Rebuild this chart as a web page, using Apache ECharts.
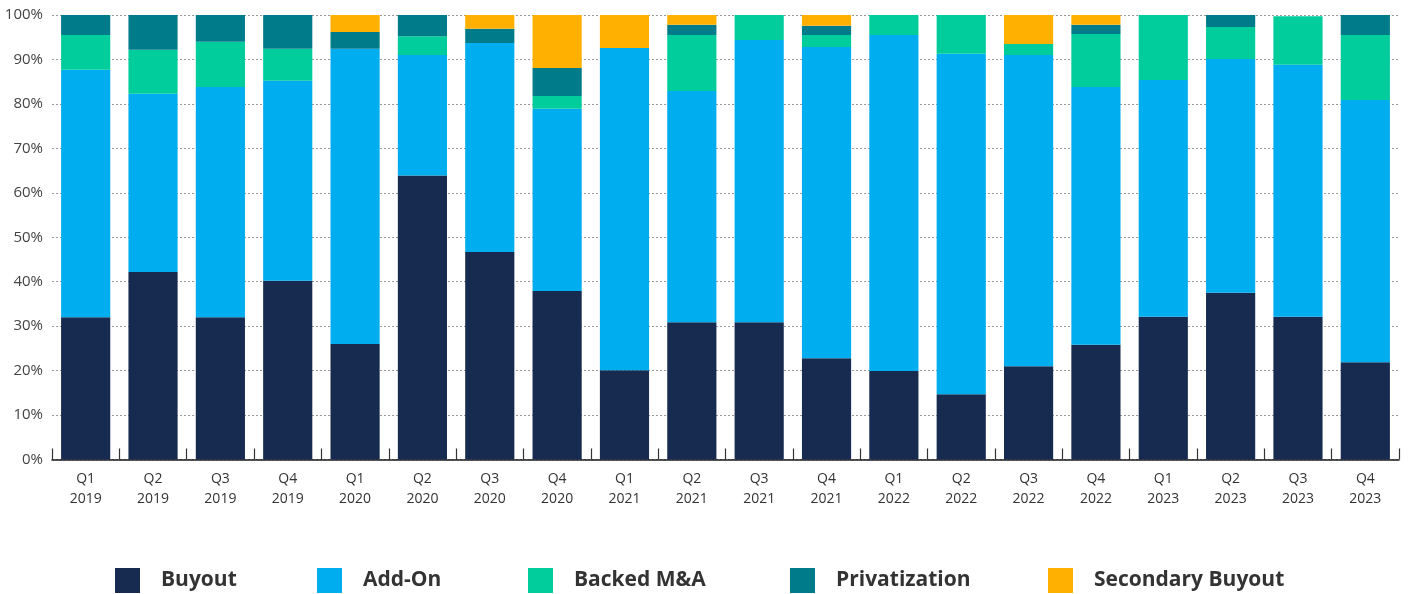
<!DOCTYPE html>
<html>
<head>
<meta charset="utf-8">
<script src="https://cdn.jsdelivr.net/npm/echarts@6/dist/echarts.min.js"></script>
<style>
  html, body { margin: 0; padding: 0; background: #fff; }
  #chart { width: 1411px; height: 594px; }
</style>
</head>
<body>
<div id="chart"></div>
<script>
// Deal-type share per quarter (percent of deals)
const quarters = ['Q1\n2019','Q2\n2019','Q3\n2019','Q4\n2019','Q1\n2020','Q2\n2020','Q3\n2020','Q4\n2020',
                  'Q1\n2021','Q2\n2021','Q3\n2021','Q4\n2021','Q1\n2022','Q2\n2022','Q3\n2022','Q4\n2022',
                  'Q1\n2023','Q2\n2023','Q3\n2023','Q4\n2023'];
const buyout        = [32.0, 42.2, 32.0, 40.2, 26.0, 63.9, 46.7, 37.9, 20.1, 30.9, 30.9, 22.8, 19.9, 14.7, 21.0, 25.8, 32.1, 37.5, 32.1, 21.9];
const addOn         = [55.7, 40.1, 51.8, 45.0, 66.4, 27.1, 47.0, 41.0, 72.5, 52.0, 63.5, 70.0, 75.6, 76.6, 70.0, 58.0, 53.3, 52.6, 56.7, 59.0];
const backedMA      = [ 7.8,  9.9, 10.2,  7.2,  0.0,  4.2,  0.0,  2.9,  0.0, 12.6,  5.6,  2.7,  4.5,  8.7,  2.5, 11.9, 14.6,  7.2, 10.9, 14.6];
const privatization = [ 4.5,  7.8,  6.0,  7.6,  3.8,  4.8,  3.2,  6.3,  0.0,  2.3,  0.0,  2.1,  0.0,  0.0,  0.0,  2.1,  0.0,  2.7,  0.0,  4.5];
const secondary     = [ 0.0,  0.0,  0.0,  0.0,  3.8,  0.0,  3.1, 11.9,  7.4,  2.2,  0.0,  2.4,  0.0,  0.0,  6.5,  2.2,  0.0,  0.0,  0.0,  0.0];
const seriesNames = ['Buyout', 'Add-On', 'Backed M&A', 'Privatization', 'Secondary Buyout'];
const yTicks = [0, 10, 20, 30, 40, 50, 60, 70, 80, 90, 100];

const COLORS = ['#172A4F', '#00ADEE', '#00CC9C', '#007B8A', '#FFB000'];
const FONT = '"Open Sans", Lato, sans-serif';
const chart = echarts.init(document.getElementById('chart'), null, { renderer: 'canvas' });

function stackSeries(name, data, color) {
  return {
    name, type: 'bar', stack: 'total', data,
    barCategoryGap: '27%',
    itemStyle: { color },
    emphasis: { disabled: true }
  };
}

// one legend block per series so each entry sits at its own spot along the bottom row
const legendLefts = [115, 317, 528, 790, 1048];
const legends = seriesNames.map((name, i) => ({
  left: legendLefts[i], top: 568, padding: 0,
  itemWidth: 25, itemHeight: 25,
  icon: 'rect',
  textStyle: { fontFamily: FONT, fontSize: 21, fontWeight: 'bold', color: '#333', padding: [5, 0, 0, 16] },
  data: [name]
}));

chart.setOption({
  animation: false,
  grid: { left: 52, right: 12, top: 15, bottom: 134.5, containLabel: false },
  legend: legends,
  xAxis: {
    type: 'category',
    data: quarters,
    axisLine: { lineStyle: { color: '#1a1a1a', width: 1.5 } },
    axisTick: { show: true, inside: true, length: 11, lineStyle: { color: '#333', width: 1.2 } },
    axisLabel: { fontFamily: FONT, fontSize: 14, color: '#333', lineHeight: 20, margin: 10 }
  },
  yAxis: {
    type: 'value',
    min: 0, max: 100, interval: 10,
    axisLine: { show: false },
    axisTick: { show: false },
    axisLabel: {
      fontFamily: FONT, fontSize: 15, color: '#444', margin: 9,
      formatter: v => (yTicks.includes(v) ? v + '%' : '')
    },
    splitLine: { lineStyle: { color: '#999', type: [2, 2], width: 1 } }
  },
  series: seriesNames.map((n, i) =>
    stackSeries(n, [buyout, addOn, backedMA, privatization, secondary][i], COLORS[i]))
});
</script>
</body>
</html>
